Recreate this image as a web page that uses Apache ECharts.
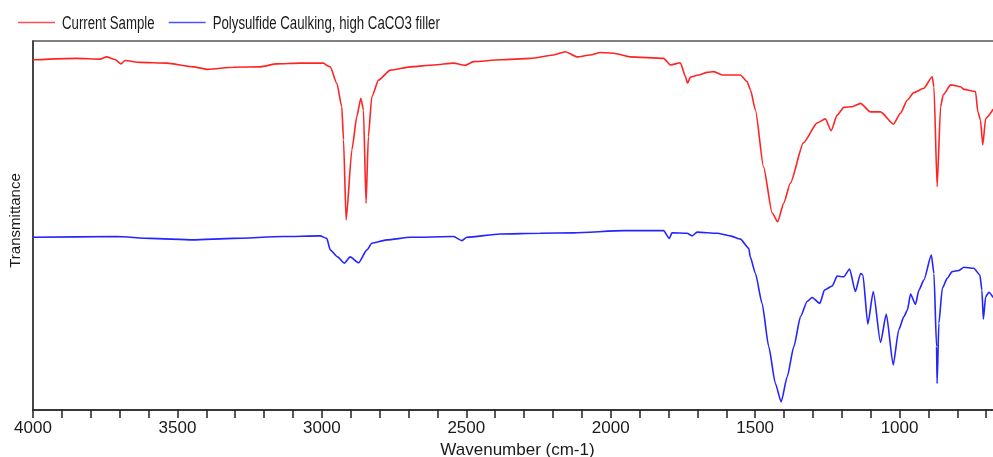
<!DOCTYPE html>
<html>
<head>
<meta charset="utf-8">
<title>FTIR spectra</title>
<script src="https://cdn.jsdelivr.net/npm/echarts@6/dist/echarts.min.js"></script>
<style>
  html, body { margin: 0; padding: 0; background: #ffffff; }
  #chart { width: 993px; height: 457px; }
</style>
</head>
<body>
<div id="chart"></div>
<script>
// Series names
const seriesNames = ['Current Sample', 'Polysulfide Caulking, high CaCO3 filler'];
const seriesColors = ['#ff2424', '#2424ff'];

// Current Sample: wavenumber (cm-1) and transmittance (arbitrary %T)
const sampleWavenumber = [4000, 3849, 3768, 3745, 3716, 3696, 3681, 3629, 3537, 3446, 3394, 3307, 3214, 3156, 3075, 2995, 2978, 2971, 2948, 2931, 2925, 2916, 2896, 2879, 2865, 2856, 2847, 2839, 2827, 2804, 2763, 2694, 2613, 2544, 2504, 2475, 2382, 2278, 2198, 2157, 2117, 2071, 2036, 1990, 1932, 1817, 1793, 1759, 1741, 1734, 1724, 1696, 1666, 1643, 1614, 1551, 1528, 1516, 1499, 1471, 1441, 1422, 1401, 1378, 1333, 1285, 1257, 1237, 1216, 1193, 1164, 1135, 1101, 1066, 1021, 997, 973, 951, 916, 887, 881, 870, 858, 849, 823, 789, 777, 737, 729, 720, 712, 702, 676];
const sampleT = [94.9, 95.3, 95.1, 95.7, 95.0, 93.8, 94.7, 94.2, 94.0, 93.0, 92.3, 92.9, 93.0, 93.8, 94.0, 94.0, 93.2, 93.0, 88.5, 82.2, 73.2, 51.5, 70.5, 79.5, 84.5, 81.3, 56.0, 74.1, 84.9, 89.4, 92.1, 93.0, 93.5, 94.0, 93.4, 94.4, 94.9, 95.3, 96.2, 97.1, 95.7, 96.2, 96.9, 96.7, 95.7, 95.3, 93.5, 94.1, 90.3, 88.6, 90.2, 90.8, 91.5, 91.7, 90.8, 90.8, 89.0, 86.7, 81.3, 65.9, 53.4, 51.0, 56.1, 61.5, 72.4, 77.8, 78.9, 75.7, 79.9, 82.0, 82.2, 83.1, 80.8, 80.8, 77.5, 80.4, 84.0, 86.0, 87.2, 90.3, 87.6, 60.5, 82.2, 85.4, 88.1, 87.6, 86.9, 86.3, 80.8, 78.6, 71.8, 79.0, 81.5];

// Reference spectrum: polysulfide caulking with high CaCO3 filler
const referenceWavenumber = [4000, 3710, 3595, 3446, 3307, 3134, 3006, 2983, 2971, 2946, 2922, 2902, 2873, 2844, 2827, 2775, 2694, 2544, 2515, 2498, 2382, 2244, 2128, 1955, 1817, 1797, 1788, 1736, 1718, 1701, 1632, 1586, 1551, 1522, 1517, 1499, 1476, 1453, 1430, 1410, 1389, 1366, 1343, 1320, 1303, 1276, 1260, 1233, 1216, 1193, 1173, 1153, 1135, 1127, 1110, 1091, 1066, 1046, 1022, 1003, 985, 973, 962, 945, 933, 916, 890, 881, 872, 870, 864, 852, 835, 818, 795, 777, 743, 722, 715, 710, 702, 691, 676];
const referenceT = [46.8, 47.0, 46.5, 46.1, 46.5, 47.0, 47.2, 46.5, 43.4, 41.5, 39.8, 41.5, 39.9, 43.4, 45.2, 46.1, 46.8, 47.0, 45.9, 46.8, 47.7, 47.9, 48.0, 48.6, 48.6, 46.5, 48.0, 47.9, 47.2, 48.2, 47.9, 47.2, 46.3, 43.8, 41.5, 37.0, 28.9, 17.2, 7.2, 2.2, 9.0, 17.2, 25.3, 29.4, 30.5, 28.9, 32.5, 33.6, 36.3, 36.1, 38.2, 32.1, 37.0, 36.6, 23.3, 32.1, 18.3, 26.0, 12.2, 21.7, 25.3, 27.1, 31.4, 28.6, 32.5, 35.2, 42.0, 37.0, 17.2, 7.2, 23.5, 33.0, 35.7, 37.5, 37.8, 38.7, 38.4, 36.6, 32.5, 24.6, 30.7, 31.9, 30.5];

// Wavenumber axis ticks
const axisMin = 500;
const axisMax = 4000;
const tickStep = 100;
const labelStep = 500;

const pairs = (xs, ys) => xs.map((x, i) => [x, ys[i]]);

// Legend drawn as line keys with condensed captions
const legendFont = '"Liberation Sans", Arial, sans-serif';
const legendScaleX = 0.735;
const legendKeys = [];
let legendX = 18;
const measure = document.createElement('canvas').getContext('2d');
measure.font = '18px ' + legendFont;
seriesNames.forEach((name, i) => {
  legendKeys.push({
    type: 'line',
    shape: { x1: legendX, y1: 22.5, x2: legendX + 37, y2: 22.5 },
    style: { stroke: seriesColors[i], lineWidth: 1.6, opacity: 0.8 },
    silent: true
  });
  legendKeys.push({
    type: 'text',
    x: legendX + 44,
    y: 24,
    scaleX: legendScaleX,
    style: {
      text: name,
      font: '18px ' + legendFont,
      fill: '#1a1a1a',
      verticalAlign: 'middle',
      align: 'left'
    },
    silent: true
  });
  legendX += 44 + measure.measureText(name).width * legendScaleX + 14;
});

const chart = echarts.init(document.getElementById('chart'), null, { renderer: 'canvas' });

chart.setOption({
  animation: false,
  backgroundColor: '#ffffff',
  graphic: legendKeys,
  grid: {
    left: 33,
    top: 41,
    width: 1011,
    bottom: 47,
    containLabel: false,
    outerBoundsMode: 'none',
    show: true,
    borderColor: '#555555',
    borderWidth: 1.5,
    backgroundColor: 'transparent'
  },
  xAxis: {
    type: 'value',
    inverse: true,
    min: axisMin,
    max: axisMax,
    interval: tickStep,
    name: 'Wavenumber (cm-1)',
    nameLocation: 'middle',
    nameGap: 29,
    nameTextStyle: {
      fontFamily: '"Liberation Sans", Arial, sans-serif',
      fontSize: 17,
      color: '#1a1a1a',
      padding: [0, 42, 0, 0]
    },
    axisLine: { show: true, onZero: false, lineStyle: { color: '#222222', width: 1.5 } },
    axisTick: { show: true, inside: false, length: 8, lineStyle: { color: '#222222', width: 1.5 } },
    axisLabel: {
      margin: 10,
      fontFamily: '"Liberation Sans", Arial, sans-serif',
      fontSize: 17,
      color: '#1a1a1a',
      showMinLabel: true,
      showMaxLabel: true,
      formatter: v => (v % labelStep === 0 ? String(v) : '')
    },
    splitLine: { show: false }
  },
  yAxis: {
    type: 'value',
    min: 0,
    max: 100,
    name: 'Transmittance',
    nameLocation: 'middle',
    nameGap: 10,
    nameTextStyle: {
      fontFamily: '"Liberation Sans", Arial, sans-serif',
      fontSize: 15,
      color: '#1a1a1a',
      padding: [0, 0, 0, 10]
    },
    axisLine: { show: true, lineStyle: { color: '#333333', width: 1.5 } },
    axisTick: { show: false },
    axisLabel: { show: false },
    splitLine: { show: false }
  },
  series: [
    {
      name: seriesNames[0],
      type: 'line',
      data: pairs(sampleWavenumber, sampleT),
      showSymbol: false,
      symbol: 'none',
      smooth: 0.2,
      smoothMonotone: 'x',
      lineStyle: { color: seriesColors[0], width: 1.6 }
    },
    {
      name: seriesNames[1],
      type: 'line',
      data: pairs(referenceWavenumber, referenceT),
      showSymbol: false,
      symbol: 'none',
      smooth: 0.2,
      smoothMonotone: 'x',
      lineStyle: { color: seriesColors[1], width: 1.6 }
    }
  ]
});
</script>
</body>
</html>
